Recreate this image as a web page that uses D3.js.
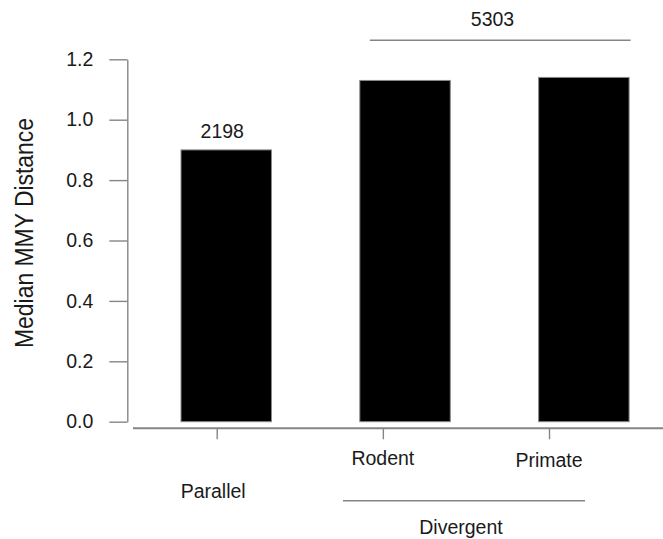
<!DOCTYPE html>
<html>
<head>
<meta charset="utf-8">
<script src="https://cdn.jsdelivr.net/npm/d3@7"></script>
<style>
  html, body { margin: 0; padding: 0; background: #fff; }
  svg { display: block; }
  text { font-family: "Liberation Sans", Arial, sans-serif; fill: #1a1a1a; }
</style>
</head>
<body>
<svg id="chart" width="663" height="539"></svg>
<script>
// Median MMY distance per comparison class
const categories = ["Parallel", "Rodent", "Primate"];
const medianDistance = [0.90, 1.13, 1.14];
const yTicks = [0.0, 0.2, 0.4, 0.6, 0.8, 1.0, 1.2];
const parallelCount = "2198";
const divergentCount = "5303";
const divergentMembers = ["Rodent", "Primate"];
const groupLabels = ["Parallel", "Divergent"];
const yTitle = "Median MMY Distance";

const svg = d3.select("#chart");
const axisGrey = "#858585";

const y = d3.scaleLinear().domain([0, 1.2]).range([421.7, 59.3]);

// bars
const xBar = d3.scaleBand()
  .domain(categories)
  .range([181, 629.1])
  .paddingInner(0.494)
  .paddingOuter(0);

// category tick positions on the baseline axis
const xTick = d3.scalePoint()
  .domain(categories)
  .range([216.7, 549]);

// y axis
const yAxis = svg.append("g")
  .attr("transform", "translate(127.3,0)")
  .call(d3.axisLeft(y).tickValues(yTicks).tickFormat(d3.format(".1f"))
    .tickSize(18).tickSizeOuter(0).tickPadding(16));
yAxis.select(".domain").attr("stroke", axisGrey).attr("stroke-width", 1.4);
yAxis.selectAll(".tick line").attr("stroke", axisGrey).attr("stroke-width", 1.4);
yAxis.selectAll(".tick text")
  .style("font-family", "'Liberation Sans', Arial, sans-serif")
  .style("font-size", "19.5px")
  .attr("fill", "#1a1a1a");

// y title
svg.append("text")
  .attr("transform", "translate(32.7,233) rotate(-90)")
  .attr("text-anchor", "middle")
  .attr("textLength", 230)
  .attr("lengthAdjust", "spacingAndGlyphs")
  .style("font-size", "26.5px")
  .text(yTitle);

// bars
svg.append("g").selectAll("rect")
  .data(categories.map((c, i) => ({ c, v: medianDistance[i] })))
  .join("rect")
  .attr("x", d => xBar(d.c))
  .attr("width", xBar.bandwidth())
  .attr("y", d => y(d.v))
  .attr("height", d => y(0) - y(d.v))
  .attr("fill", "#000")
  .attr("stroke", "#8a8a8a")
  .attr("stroke-width", 1);

// x baseline axis
const xAxis = svg.append("g")
  .attr("transform", "translate(0,428.3)")
  .call(d3.axisBottom(xTick).tickSize(11).tickSizeOuter(0).tickFormat(""));
xAxis.select(".domain").attr("d", "M133,0H663").attr("stroke", axisGrey).attr("stroke-width", 2);
xAxis.selectAll(".tick line").attr("stroke", axisGrey).attr("stroke-width", 1.4);

// species labels under the divergent ticks
svg.append("g").selectAll("text")
  .data(divergentMembers)
  .join("text")
  .attr("x", d => xTick(d))
  .attr("y", (d, i) => i === 0 ? 465 : 467.3)
  .attr("text-anchor", "middle")
  .style("font-size", "19.5px")
  .text(d => d);

// group labels
svg.append("text")
  .attr("x", xTick(groupLabels[0]) - 3.5)
  .attr("y", 498.3)
  .attr("text-anchor", "middle")
  .style("font-size", "19.5px")
  .text(groupLabels[0]);

const divLeft = 343, divRight = 585;
svg.append("line")
  .attr("x1", divLeft).attr("x2", divRight)
  .attr("y1", 500.7).attr("y2", 500.7)
  .attr("stroke", axisGrey).attr("stroke-width", 1.4);
svg.append("text")
  .attr("x", (divLeft + divRight) / 2 - 3)
  .attr("y", 534)
  .attr("text-anchor", "middle")
  .style("font-size", "19.5px")
  .text(groupLabels[1]);

// counts
svg.append("text")
  .attr("x", xBar("Parallel") + xBar.bandwidth() / 2 - 4)
  .attr("y", y(medianDistance[0]) - 12)
  .attr("text-anchor", "middle")
  .style("font-size", "19.5px")
  .text(parallelCount);

const bracketL = xBar("Rodent") + 10, bracketR = xBar("Primate") + xBar.bandwidth() + 1.5;
svg.append("line")
  .attr("x1", bracketL).attr("x2", bracketR)
  .attr("y1", 40.3).attr("y2", 40.3)
  .attr("stroke", axisGrey).attr("stroke-width", 1.4);
svg.append("text")
  .attr("x", 492.5)
  .attr("y", 26)
  .attr("text-anchor", "middle")
  .style("font-size", "19.5px")
  .text(divergentCount);
</script>
</body>
</html>
